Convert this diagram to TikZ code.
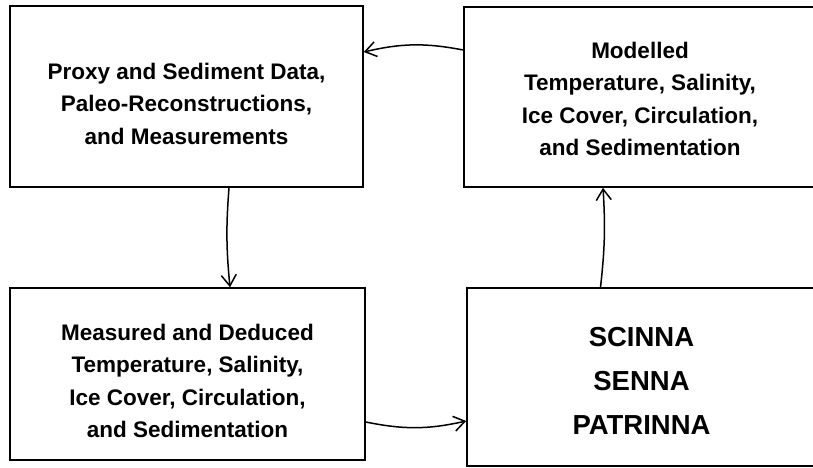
\documentclass[tikz,border=0pt]{standalone}
\usepackage{fontspec}
\setmainfont{Liberation Sans}
\usetikzlibrary{arrows.meta,positioning}

\begin{document}
\begin{tikzpicture}[x=1pt, y=-1pt, line width=1.6pt,
  every node/.style = {align=center, inner sep=0pt, font=\bfseries\fontsize{22.5}{32.5}\selectfont},
  box/.style = {draw},
  txt/.style = {yshift=#1},
  big/.style = {font=\bfseries\fontsize{27.5}{44}\selectfont},
  flow/.style = {-{Straight Barb[length=11pt,width=15pt]}, line width=1.5pt}]
  \clip (0,0) rectangle (813,468);
  \node[box, minimum width=353pt, minimum height=181pt,
    label={[txt=-7pt]center:{Proxy and Sediment Data,\\Paleo-Reconstructions,\\and Measurements}}]
    (data) at (186.5,96.5) {};
  \node[box, minimum width=352pt, minimum height=180pt,
    label={[txt=-2pt]center:{Modelled\\Temperature, Salinity,\\Ice Cover, Circulation,\\and Sedimentation}}]
    (model) at (640,97) {};
  \node[box, minimum width=355pt, minimum height=172pt,
    label={[txt=-7pt]center:{Measured and Deduced\\Temperature, Salinity,\\Ice Cover, Circulation,\\and Sedimentation}}]
    (deduced) at (187.5,374) {};
  \node[box, minimum width=349pt, minimum height=178pt,
    label={[big, txt=-4pt]center:{SCINNA\\SENNA\\PATRINNA}}]
    (nna) at (641.5,377) {};
  % cycle
  \draw[flow] ([yshift=47pt]model.west) to[bend right=12] ([yshift=44.5pt]data.east);
  \draw[flow] ([xshift=42.5pt]data.south) to[bend right=5] ([xshift=42.5pt]deduced.north);
  \draw[flow] ([yshift=-48pt]deduced.east) to[bend right=12] ([yshift=-44pt]nna.west);
  \draw[flow] ([xshift=-41pt]nna.north) to[bend right=5] ([xshift=-37pt]model.south);
\end{tikzpicture}
\end{document}
